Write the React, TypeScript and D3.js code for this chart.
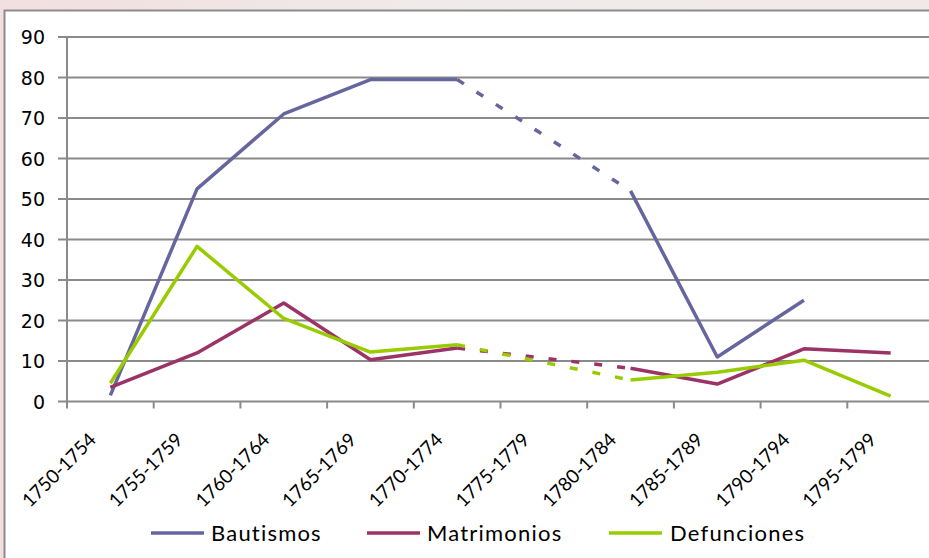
import React from "react";
import * as d3 from "d3";

const periods = [
  "1750-1754", "1755-1759", "1760-1764", "1765-1769", "1770-1774",
  "1775-1779", "1780-1784", "1785-1789", "1790-1794", "1795-1799",
];
const bautismos: (number | null)[] = [1.5, 52.5, 71, 79.5, 79.5, null, 52, 11, 25, null];
const matrimonios: (number | null)[] = [3.5, 12, 24.3, 10.3, 13.2, null, 8.2, 4.3, 13, 12];
const defunciones: (number | null)[] = [4.5, 38.3, 20.5, 12.2, 14, null, 5.3, 7.2, 10.2, 1.3];
const yTicks = [0, 10, 20, 30, 40, 50, 60, 70, 80, 90];

const seriesNames = ["Bautismos", "Matrimonios", "Defunciones"];
const seriesColors = ["#66669f", "#9b3366", "#99cc00"];

const W = 929;
const H = 558;

export default function App() {
  const x = d3.scaleBand<string>().domain(periods).range([67, 67 + 86.7 * periods.length]);
  const y = d3.scaleLinear().domain([0, 90]).range([401.5, 37]);
  const cx = (i: number) => (x(periods[i]) as number) + x.bandwidth() / 2;

  const line = d3
    .line<number | null>()
    .defined((d) => d != null)
    .x((_, i) => cx(i))
    .y((d) => y(d as number));

  const allSeries = [bautismos, matrimonios, defunciones];

  // dashed connectors across missing periods
  const gaps = (vals: (number | null)[]) => {
    const segs: [number, number, number, number][] = [];
    let last = -1;
    vals.forEach((v, i) => {
      if (v == null) return;
      if (last >= 0 && i - last > 1) {
        segs.push([cx(last), y(vals[last] as number), cx(i), y(v)]);
      }
      last = i;
    });
    return segs;
  };

  const legendItems = [
    { lx: 151, tx: 211 },
    { lx: 367, tx: 427 },
    { lx: 609, tx: 670 },
  ];

  return (
    <svg
      width={W}
      height={H}
      style={{ position: "absolute", left: 0, top: 0 }}
      fontFamily="Lato, 'Open Sans', sans-serif"
    >
      <defs>
        <linearGradient id="bgGrad" x1="0" y1="0" x2="1" y2="0">
          <stop offset="0" stopColor="#f2dfdf" />
          <stop offset="0.5" stopColor="#efebea" />
          <stop offset="1" stopColor="#f1e9e7" />
        </linearGradient>
      </defs>
      <rect x={0} y={0} width={W} height={H} fill="url(#bgGrad)" />
      <rect x={4.5} y={10.5} width={W + 20} height={H + 20} fill="#ffffff" stroke="#8c8c8c" strokeWidth={2} />

      {/* horizontal gridlines and y ticks */}
      {yTicks.map((t) => (
        <g key={t}>
          <line x1={58} x2={W + 10} y1={y(t)} y2={y(t)} stroke="#8a8a8a" strokeWidth={2} />
          <text
            x={45}
            y={y(t)}
            textAnchor="end"
            dominantBaseline="central"
            fontFamily="'DejaVu Sans', sans-serif"
            fontSize={19}
            fill="#000"
          >
            {t}
          </text>
        </g>
      ))}

      {/* y axis */}
      <line x1={67} x2={67} y1={y(90)} y2={y(0)} stroke="#8a8a8a" strokeWidth={2} />

      {/* x ticks and labels */}
      {periods.map((p, i) => (
        <line
          key={"t" + p}
          x1={x(p) as number}
          x2={x(p) as number}
          y1={y(0)}
          y2={y(0) + 7}
          stroke="#8a8a8a"
          strokeWidth={2}
        />
      ))}
      {periods.map((p, i) => (
        <text
          key={"l" + p}
          transform={`translate(${cx(i) - 13},${441}) rotate(-45)`}
          textAnchor="end"
          fontSize={19}
          fill="#000"
        >
          {p}
        </text>
      ))}

      {/* series */}
      {allSeries.map((vals, s) => (
        <g key={seriesNames[s]}>
          {gaps(vals).map(([x1, y1, x2, y2], k) => (
            <line
              key={k}
              x1={x1}
              y1={y1}
              x2={x2}
              y2={y2}
              stroke={seriesColors[s]}
              strokeWidth={3.5}
              strokeDasharray="8 15"
            />
          ))}
          <path
            d={line(vals) || ""}
            fill="none"
            stroke={seriesColors[s]}
            strokeWidth={3.5}
            strokeLinejoin="round"
          />
        </g>
      ))}

      {/* legend */}
      {seriesNames.map((n, s) => (
        <g key={"lg" + n}>
          <line
            x1={legendItems[s].lx}
            x2={legendItems[s].lx + 53}
            y1={533}
            y2={533}
            stroke={seriesColors[s]}
            strokeWidth={3.5}
          />
          <text x={legendItems[s].tx} y={541} fontSize={22} letterSpacing={1.2} fill="#000">
            {n}
          </text>
        </g>
      ))}
    </svg>
  );
}
